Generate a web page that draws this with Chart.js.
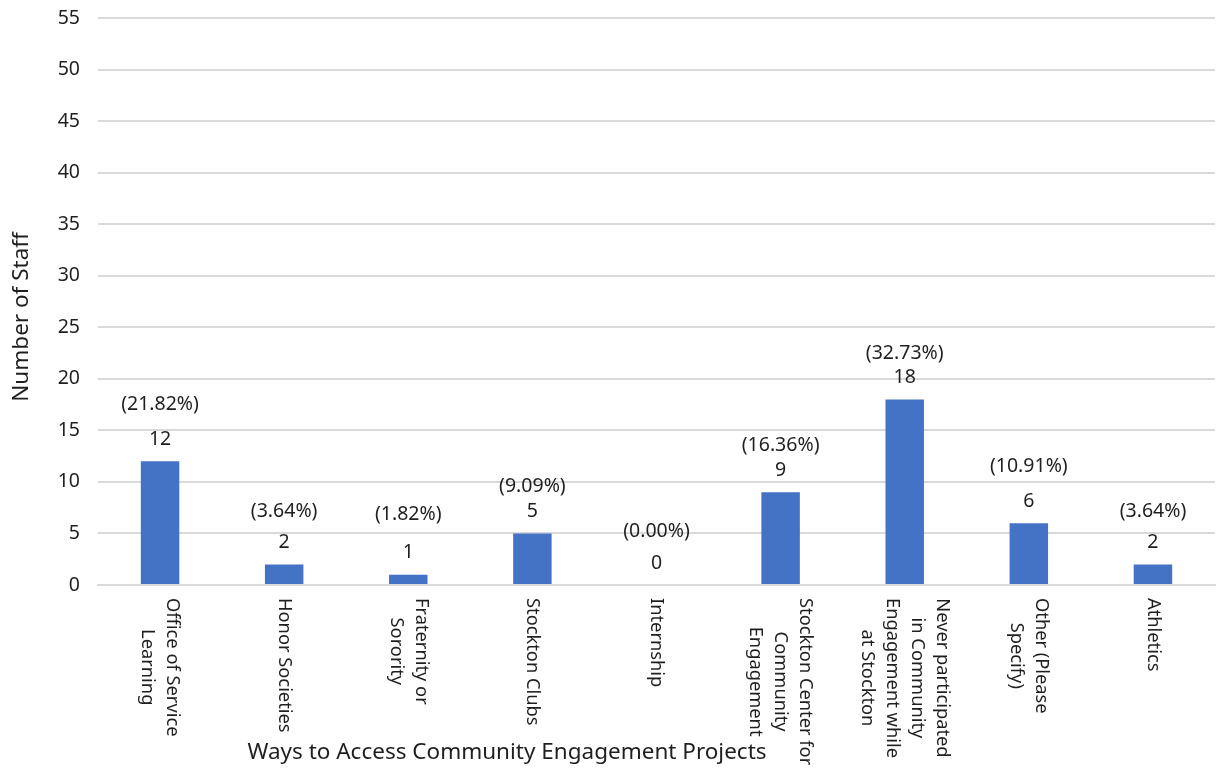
<!DOCTYPE html>
<html>
<head>
<meta charset="utf-8">
<script src="https://cdn.jsdelivr.net/npm/chart.js@4.4.1/dist/chart.umd.min.js"></script>
<style>
  html, body { margin: 0; padding: 0; background: #ffffff; }
  #wrap { width: 1217px; height: 774px; }
</style>
</head>
<body>
<div id="wrap"><canvas id="chart" width="1217" height="774"></canvas></div>
<script>
// Survey categories (each entry is one line of the wrapped axis label)
const categories = [
  ['Office of Service', 'Learning'],
  ['Honor Societies'],
  ['Fraternity or', 'Sorority'],
  ['Stockton Clubs'],
  ['Internship'],
  ['Stockton Center for', 'Community', 'Engagement'],
  ['Never participated', 'in Community', 'Engagement while', 'at Stockton'],
  ['Other (Please', 'Specify)'],
  ['Athletics']
];

// Number of staff per category
const staffCounts = [12, 2, 1, 5, 0, 9, 18, 6, 2];

// Share of respondents, as printed above each bar
const percentLabels = ['21.82%', '3.64%', '1.82%', '9.09%', '0.00%', '16.36%', '32.73%', '10.91%', '3.64%'];

// Y axis range
const yMin = 0;
const yMax = 55;
const yStep = 5;

const FONT = '"Noto Sans", "Open Sans", sans-serif';
const TEXT_COLOR = '#1f1f1f';

// Draws the two-line value labels, the vertical category labels and both axis titles
const annotationPlugin = {
  id: 'annotations',
  afterDatasetsDraw(chart, args, opts) {
    const ctx = chart.ctx;
    const meta = chart.getDatasetMeta(0);
    const xScale = chart.scales.x;
    const area = chart.chartArea;

    ctx.save();
    ctx.fillStyle = TEXT_COLOR;
    ctx.textAlign = 'center';
    ctx.textBaseline = 'middle';
    ctx.font = '19.5px ' + FONT;

    // value labels above each bar
    meta.data.forEach((bar, i) => {
      const top = bar.y;
      const countY = top - 22;
      ctx.fillText(String(staffCounts[i]), bar.x, countY);
      ctx.fillText('(' + percentLabels[i] + ')', bar.x, countY - opts.pctGap[i]);
    });

    // category labels, rotated clockwise so they read top to bottom
    ctx.font = '18.3px ' + FONT;
    const lineH = 25;
    categories.forEach((lines, i) => {
      const cx = xScale.getPixelForValue(i);
      const maxW = Math.max(...lines.map(l => ctx.measureText(l).width));
      const startY = area.bottom + 13;
      ctx.save();
      ctx.translate(cx, startY + maxW / 2);
      ctx.rotate(Math.PI / 2);
      const n = lines.length;
      lines.forEach((line, k) => {
        // first line sits furthest right, later lines step leftwards
        const offset = ((n - 1) / 2 - k) * lineH;
        ctx.fillText(line, 0, -offset);
      });
      ctx.restore();
    });

    // axis titles
    ctx.font = '22.5px ' + FONT;
    ctx.fillText('Ways to Access Community Engagement Projects', opts.xTitleX, opts.xTitleY);

    ctx.save();
    ctx.translate(opts.yTitleX, opts.yTitleY);
    ctx.rotate(-Math.PI / 2);
    ctx.fillText('Number of Staff', 0, 0);
    ctx.restore();

    ctx.restore();
  }
};

new Chart(document.getElementById('chart'), {
  type: 'bar',
  data: {
    labels: categories.map(c => c.join(' ')),
    datasets: [{
      data: staffCounts,
      backgroundColor: '#4472C4',
      borderWidth: 0,
      barPercentage: 0.62,
      categoryPercentage: 0.5
    }]
  },
  options: {
    responsive: false,
    animation: false,
    devicePixelRatio: 1,
    layout: { padding: { top: 18, right: 2, left: 0, bottom: 0 } },
    plugins: {
      legend: { display: false },
      tooltip: { enabled: false },
      annotations: {
        pctGap: [35, 31, 38, 25, 32, 25, 24, 35, 31],
        xTitleX: 507,
        xTitleY: 753,
        yTitleX: 22,
        yTitleY: 317
      }
    },
    scales: {
      x: {
        grid: { display: false, drawTicks: false },
        border: { display: true, color: '#d9d9d9', width: 2 },
        ticks: { display: false },
        afterFit(scale) { scale.height = 189; }
      },
      y: {
        min: yMin,
        max: yMax,
        ticks: {
          stepSize: yStep,
          color: TEXT_COLOR,
          padding: 18,
          font: { family: FONT, size: 19.5 }
        },
        grid: { color: '#d9d9d9', lineWidth: 2, drawTicks: false },
        border: { display: false },
        afterFit(scale) {
          scale.width = 98;
          // let the top gridline sit right at the layout padding
          scale.paddingTop = 0;
          scale.paddingBottom = 0;
        }
      }
    }
  },
  plugins: [annotationPlugin]
});
</script>
</body>
</html>
